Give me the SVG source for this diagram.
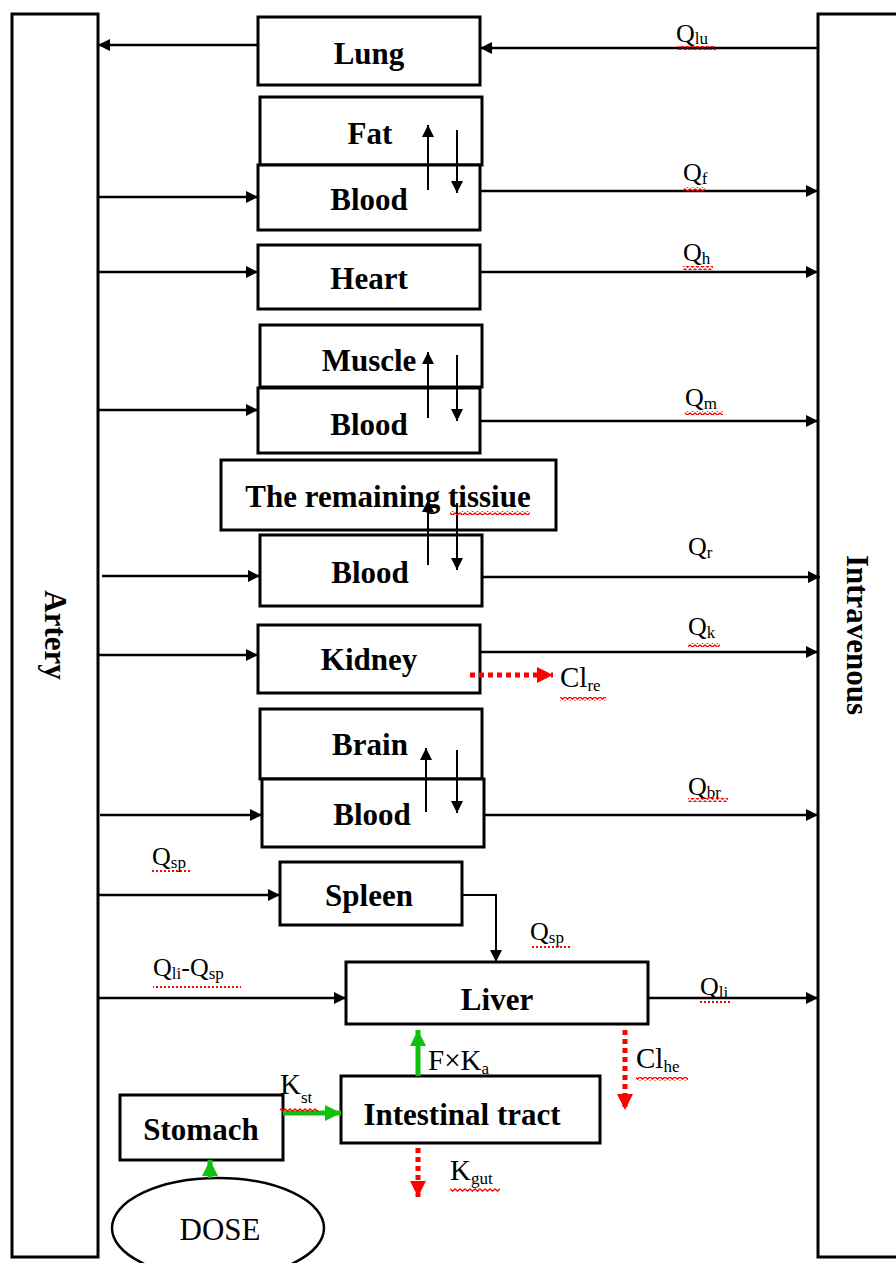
<svg xmlns="http://www.w3.org/2000/svg" width="896" height="1263" viewBox="0 0 896 1263">
<defs>
<style>
.box{fill:#fff;stroke:#000;stroke-width:3}
.bar{fill:#fff;stroke:#000;stroke-width:3}
.lbl{font-family:"Liberation Serif","Times New Roman",serif;font-weight:bold;font-size:31px;fill:#000;text-anchor:middle}
.q{font-family:"Liberation Serif","Times New Roman",serif;font-size:26px;fill:#000}
.k{font-family:"Liberation Serif","Times New Roman",serif;font-size:29px;fill:#000}
.sub{font-size:17px}
.ln{stroke:#000;stroke-width:2.5;fill:none;marker-end:url(#ah)}
.thin{stroke:#000;stroke-width:2;fill:none;marker-end:url(#ah)}
.red{stroke:#ff0000;stroke-width:5;stroke-dasharray:5 4;fill:none;marker-end:url(#rh)}
.grn{stroke:#10c010;stroke-width:5;fill:none;marker-end:url(#gh)}
</style>
<marker id="ah" viewBox="0 0 10 10" refX="10" refY="5" markerWidth="15" markerHeight="12" markerUnits="userSpaceOnUse" orient="auto"><path d="M0,0 L10,5 L0,10 z" fill="#000"/></marker>
<marker id="rh" viewBox="0 0 10 10" refX="10" refY="5" markerWidth="16" markerHeight="16" markerUnits="userSpaceOnUse" orient="auto"><path d="M0,0 L10,5 L0,10 z" fill="#ff0000"/></marker>
<marker id="gh" viewBox="0 0 10 10" refX="10" refY="5" markerWidth="16" markerHeight="16" markerUnits="userSpaceOnUse" orient="auto"><path d="M0,0 L10,5 L0,10 z" fill="#10c010"/></marker>
<pattern id="wavy" width="5" height="4" patternUnits="userSpaceOnUse"><path d="M0,0.8 L2.5,3.2 L5,0.8" stroke="#ff0000" stroke-width="1.3" fill="none"/></pattern>
<pattern id="dots" width="4" height="2" patternUnits="userSpaceOnUse"><rect x="0" y="0" width="2" height="2" fill="#ff0000"/></pattern>
</defs>

<g id="artery"><rect class="bar" x="12" y="14" width="86" height="1243"/><text class="lbl" transform="translate(45,635) rotate(90)">Artery</text></g>
<g id="intravenous"><rect class="bar" x="818" y="14" width="90" height="1243"/><text class="lbl" transform="translate(847,635) rotate(90)">Intravenous</text></g>

<g id="lung"><rect class="box" x="258" y="17" width="222" height="68"/><text class="lbl" x="369" y="64">Lung</text></g>
<g id="fat"><rect class="box" x="260" y="97" width="222" height="68"/><text class="lbl" x="370" y="144">Fat</text></g>
<g id="fat-blood"><rect class="box" x="258" y="165" width="222" height="65"/><text class="lbl" x="369" y="210">Blood</text></g>
<g id="heart"><rect class="box" x="258" y="245" width="222" height="64"/><text class="lbl" x="369" y="289">Heart</text></g>
<g id="muscle"><rect class="box" x="260" y="325" width="222" height="62"/><text class="lbl" x="369" y="371">Muscle</text></g>
<g id="muscle-blood"><rect class="box" x="258" y="388" width="222" height="65"/><text class="lbl" x="369" y="435">Blood</text></g>
<g id="remaining"><rect class="box" x="221" y="460" width="335" height="70"/><text class="lbl" x="388" y="507">The remaining tissiue</text></g>
<g id="remaining-blood"><rect class="box" x="260" y="535" width="222" height="71"/><text class="lbl" x="370" y="583">Blood</text></g>
<g id="kidney"><rect class="box" x="258" y="625" width="222" height="68"/><text class="lbl" x="369" y="670">Kidney</text></g>
<g id="brain"><rect class="box" x="260" y="709" width="222" height="70"/><text class="lbl" x="370" y="755">Brain</text></g>
<g id="brain-blood"><rect class="box" x="262" y="779" width="222" height="68"/><text class="lbl" x="372" y="825">Blood</text></g>
<g id="spleen"><rect class="box" x="280" y="862" width="182" height="63"/><text class="lbl" x="369" y="906">Spleen</text></g>
<g id="liver"><rect class="box" x="346" y="962" width="302" height="62"/><text class="lbl" x="497" y="1010">Liver</text></g>
<g id="intestinal"><rect class="box" x="341" y="1076" width="259" height="67"/><text class="lbl" x="462" y="1125">Intestinal tract</text></g>
<g id="stomach"><rect class="box" x="120" y="1095" width="163" height="65"/><text class="lbl" x="201" y="1140">Stomach</text></g>
<g id="dose"><ellipse cx="218" cy="1228" rx="106" ry="50" fill="#fff" stroke="#000" stroke-width="2.5"/><text x="220" y="1240" font-family="Liberation Serif, serif" font-size="31" text-anchor="middle">DOSE</text></g>

<g id="connectors">
<line class="ln" x1="258" y1="45" x2="98" y2="45"/>
<line class="ln" x1="818" y1="48" x2="480" y2="48"/>
<line class="ln" x1="98" y1="197" x2="258" y2="197"/>
<line class="ln" x1="480" y1="191" x2="818" y2="191"/>
<line class="thin" x1="428" y1="190" x2="428" y2="125"/>
<line class="thin" x1="457" y1="130" x2="457" y2="193"/>
<line class="ln" x1="98" y1="272" x2="258" y2="272"/>
<line class="ln" x1="480" y1="272" x2="818" y2="272"/>
<line class="ln" x1="98" y1="410" x2="258" y2="410"/>
<line class="ln" x1="480" y1="421" x2="818" y2="421"/>
<line class="thin" x1="428" y1="418" x2="428" y2="352"/>
<line class="thin" x1="457" y1="355" x2="457" y2="421"/>
<line class="ln" x1="102" y1="576" x2="260" y2="576"/>
<line class="ln" x1="482" y1="577" x2="820" y2="577"/>
<line class="thin" x1="428" y1="565" x2="428" y2="500"/>
<line class="thin" x1="457" y1="503" x2="457" y2="570"/>
<line class="ln" x1="98" y1="655" x2="258" y2="655"/>
<line class="ln" x1="480" y1="652" x2="818" y2="652"/>
<line class="red" x1="470" y1="675" x2="553" y2="675"/>
<line class="ln" x1="100" y1="815" x2="262" y2="815"/>
<line class="ln" x1="484" y1="815" x2="818" y2="815"/>
<line class="thin" x1="426" y1="812" x2="426" y2="748"/>
<line class="thin" x1="457" y1="750" x2="457" y2="813"/>
<line class="ln" x1="98" y1="895" x2="280" y2="895"/>
<polyline class="thin" points="462,895 496,895 496,962"/>
<line class="ln" x1="98" y1="998" x2="346" y2="998"/>
<line class="ln" x1="648" y1="998" x2="818" y2="998"/>
<line class="red" x1="625" y1="1030" x2="625" y2="1110"/>
<line class="grn" x1="418" y1="1076" x2="418" y2="1030"/>
<line class="grn" x1="283" y1="1113" x2="341" y2="1113"/>
<line class="grn" x1="210" y1="1178" x2="210" y2="1160"/>
<line class="red" x1="418" y1="1148" x2="418" y2="1197"/>
</g>

<g id="labels">
<text class="q" x="676" y="42">Q<tspan class="sub" dy="2">lu</tspan></text>
<rect x="678" y="46" width="38" height="4" fill="url(#wavy)"/>
<text class="q" x="683" y="181">Q<tspan class="sub" dy="3">f</tspan></text>
<rect x="683" y="187" width="22" height="4" fill="url(#wavy)"/>
<text class="q" x="683" y="261">Q<tspan class="sub" dy="3">h</tspan></text>
<rect x="683" y="266" width="30" height="4" fill="url(#wavy)"/>
<text class="q" x="685" y="406">Q<tspan class="sub" dy="3">m</tspan></text>
<rect x="685" y="411" width="38" height="4" fill="url(#wavy)"/>
<text class="q" x="688" y="555">Q<tspan class="sub" dy="3">r</tspan></text>
<text class="q" x="688" y="635">Q<tspan class="sub" dy="3">k</tspan></text>
<rect x="688" y="643" width="32" height="4" fill="url(#wavy)"/>
<text class="q" x="688" y="795">Q<tspan class="sub" dy="3">br</tspan></text>
<rect x="688" y="798" width="40" height="4" fill="url(#wavy)"/>
<text class="k" x="560" y="687">Cl<tspan class="sub" dy="4">re</tspan></text>
<rect x="560" y="697" width="46" height="4" fill="url(#wavy)"/>
<text class="q" x="152" y="865">Q<tspan class="sub" dy="3">sp</tspan></text>
<rect x="152" y="870" width="40" height="2" fill="url(#dots)"/>
<text class="q" x="530" y="940">Q<tspan class="sub" dy="3">sp</tspan></text>
<rect x="530" y="946" width="40" height="2" fill="url(#dots)"/>
<text class="q" x="153" y="976">Q<tspan class="sub" dy="3">li</tspan><tspan dy="-3">-Q</tspan><tspan class="sub" dy="3">sp</tspan></text>
<rect x="153" y="986" width="88" height="2" fill="url(#dots)"/>
<text class="q" x="700" y="995">Q<tspan class="sub" dy="3">li</tspan></text>
<rect x="700" y="1001" width="30" height="2" fill="url(#dots)"/>
<text class="k" x="428" y="1070">F×K<tspan class="sub" dy="4">a</tspan></text>
<text class="k" x="636" y="1068">Cl<tspan class="sub" dy="4">he</tspan></text>
<rect x="636" y="1077" width="52" height="4" fill="url(#wavy)"/>
<text class="k" x="280" y="1094">K<tspan class="sub" dy="9">st</tspan></text>
<rect x="280" y="1108" width="38" height="4" fill="url(#wavy)"/>
<text class="k" x="450" y="1180">K<tspan class="sub" dy="4">gut</tspan></text>
<rect x="450" y="1188" width="50" height="4" fill="url(#wavy)"/>
<rect x="450" y="511" width="80" height="4" fill="url(#wavy)"/>
</g>
</svg>
